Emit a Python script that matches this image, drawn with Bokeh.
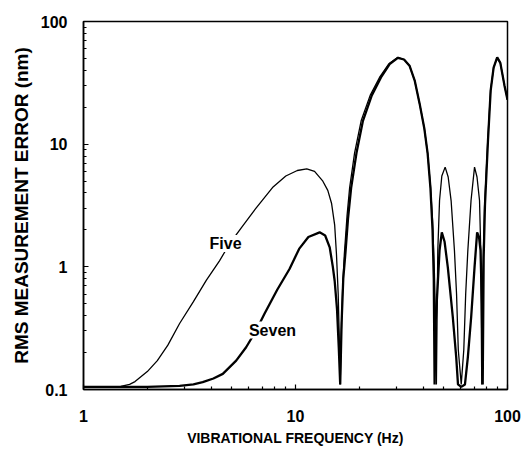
from bokeh.plotting import figure
from bokeh.models import FixedTicker, Label
from bokeh.embed import file_html
from bokeh.resources import INLINE

# ---- data ----
five_freq = [1.0, 1.3, 1.5, 1.65, 1.75, 2.0, 2.23, 2.5, 2.84, 3.3, 3.8, 4.38, 4.9, 5.56,
             6.5, 7.79, 9.0, 10.2, 11.3, 12.3, 13.4, 14.2, 14.8, 15.3, 15.6, 15.9, 16.1,
             16.25, 16.45, 16.7, 17.0, 17.5, 18.0, 19.0, 20.4, 22.5, 24.9, 27.5, 30.4,
             32.5, 34.5, 36.5, 38.5, 40.5, 42.0, 43.3, 44.3, 45.2, 45.8, 46.2, 46.9,
             47.8, 49.0, 50.8, 52.5, 54.2, 56.2, 57.5, 58.6, 60.5, 62.2, 63.5, 65.0,
             67.3, 69.9, 71.8, 73.8, 74.8, 75.6, 76.5, 77.9, 80.7, 83.2, 86.0, 89.4,
             92.5, 96.8, 100.0]
five_err = [0.105, 0.105, 0.106, 0.11, 0.116, 0.14, 0.172, 0.23, 0.345, 0.52, 0.78, 1.12,
            1.55, 2.09, 3.0, 4.43, 5.5, 6.1, 6.3, 6.0, 5.05, 4.2, 3.28, 2.2, 1.28, 0.6,
            0.25, 0.11, 0.3, 0.7, 1.28, 2.6, 4.4, 8.5, 15.5, 25.0, 35.0, 45.0, 51.0,
            49.0, 43.6, 33.0, 21.4, 13.5, 8.4, 4.6, 2.4, 0.9, 0.35, 0.11, 1.36,
            3.47, 5.5, 6.5, 5.4, 3.47, 1.36, 0.6, 0.21, 0.11, 0.21, 0.6, 1.36,
            3.47, 6.5, 5.4, 3.47, 1.36, 0.11, 0.88, 3.06, 10.7, 27.4, 42.0, 51.0,
            46.0, 30.0, 23.0]

seven_freq = [1.0, 2.0, 2.84, 3.3, 3.65, 4.1, 4.54, 5.25, 5.85, 6.5, 7.14, 8.2, 9.37,
              10.4, 11.5, 13.0, 13.8, 14.5, 15.0, 15.3, 15.7, 16.0, 16.25, 16.5, 16.8,
              17.2, 17.7, 18.3, 19.4, 20.8, 22.9, 25.3, 27.8, 30.4, 32.5, 34.5, 36.5,
              38.5, 40.5, 42.0, 43.3, 44.3, 44.9, 45.3, 45.8, 46.9, 47.8, 49.0, 50.5,
              52.3, 55.2, 57.3, 58.4, 60.5, 63.0, 65.0, 67.4, 69.9, 71.9, 73.4, 74.6,
              75.7, 76.4, 77.2, 78.3, 80.9, 83.3, 86.0, 89.4, 92.5, 96.8, 100.0]
seven_err = [0.105, 0.105, 0.107, 0.11, 0.115, 0.123, 0.134, 0.172, 0.221, 0.30, 0.414,
             0.65, 0.96, 1.40, 1.75, 1.91, 1.8, 1.44, 1.0, 0.77, 0.45, 0.22, 0.11, 0.35,
             0.8, 1.3, 2.5, 4.4, 8.5, 15.5, 25.0, 35.0, 45.0, 50.5, 49.0, 43.6, 33.0,
             21.4, 13.5, 8.4, 4.4, 2.0, 0.8, 0.11, 0.35, 0.73, 1.36, 1.91, 1.6,
             0.99, 0.39, 0.183, 0.11, 0.105, 0.11, 0.183, 0.39, 0.99, 1.91, 1.75, 1.36,
             0.5, 0.11, 1.2, 3.2, 10.7, 27.4, 42.0, 51.0, 46.0, 30.0, 23.0]

x_ticks = [1, 10, 100]
x_tick_labels = ["1", "10", "100"]
y_ticks = [0.1, 1, 10, 100]
y_tick_labels = ["0.1", "1", "10", "100"]

FONT = "Liberation Sans"

p = figure(width=528, height=453, x_axis_type="log", y_axis_type="log",
           x_range=(1, 100), y_range=(0.1, 100),
           output_backend="svg", toolbar_location=None,
           min_border_left=83, min_border_right=21, min_border_top=21,
           min_border_bottom=64)

p.line(five_freq, five_err, line_color="black", line_width=1.3)
p.line(seven_freq, seven_err, line_color="black", line_width=2.3)

p.xgrid.visible = False
p.ygrid.visible = False
p.outline_line_color = "black"
p.outline_line_width = 1.5
p.outline_line_alpha = 1.0

minor_x = [k * 10 ** e for e in (0, 1) for k in range(2, 10)]
minor_y = [k * 10 ** e for e in (-1, 0, 1) for k in range(2, 10)]

p.xaxis.ticker = FixedTicker(ticks=x_ticks, minor_ticks=minor_x)
p.yaxis.ticker = FixedTicker(ticks=y_ticks, minor_ticks=minor_y)
p.xaxis.major_label_overrides = dict(zip(x_ticks, x_tick_labels))
p.yaxis.major_label_overrides = dict(zip(y_ticks, y_tick_labels))

for ax in (p.xaxis[0], p.yaxis[0]):
    ax.axis_line_color = "black"
    ax.axis_line_width = 1.5
    ax.major_tick_in = 5
    ax.major_tick_out = 0
    ax.minor_tick_in = 3
    ax.minor_tick_out = 0
    ax.major_tick_line_color = "black"
    ax.minor_tick_line_color = "black"
    ax.major_tick_line_width = 1.2
    ax.minor_tick_line_width = 1.2
    ax.major_label_text_font = FONT
    ax.major_label_text_font_style = "bold"
    ax.major_label_text_font_size = "16px"
    ax.major_label_text_color = "black"
    ax.axis_label_text_font = FONT
    ax.axis_label_text_font_style = "bold"
    ax.axis_label_text_color = "black"

p.xaxis.axis_label = "VIBRATIONAL FREQUENCY (Hz)"
p.xaxis.axis_label_text_font_size = "14px"
p.xaxis.major_label_standoff = 20
p.xaxis.axis_label_standoff = 5

p.yaxis.axis_label = "RMS MEASUREMENT ERROR (nm)"
p.yaxis.axis_label_text_font_size = "19px"
p.yaxis.major_label_standoff = 16
p.yaxis.axis_label_standoff = 6

for txt, lx, ly in (("Five", 4.68, 1.55), ("Seven", 7.79, 0.305)):
    p.add_layout(Label(x=lx, y=ly, text=txt, text_font=FONT, text_font_style="bold",
                       text_font_size="16px", text_align="center",
                       text_baseline="middle", text_color="black",
                       background_fill_color="white"))

open("out.html", "w").write(file_html(p, INLINE))
